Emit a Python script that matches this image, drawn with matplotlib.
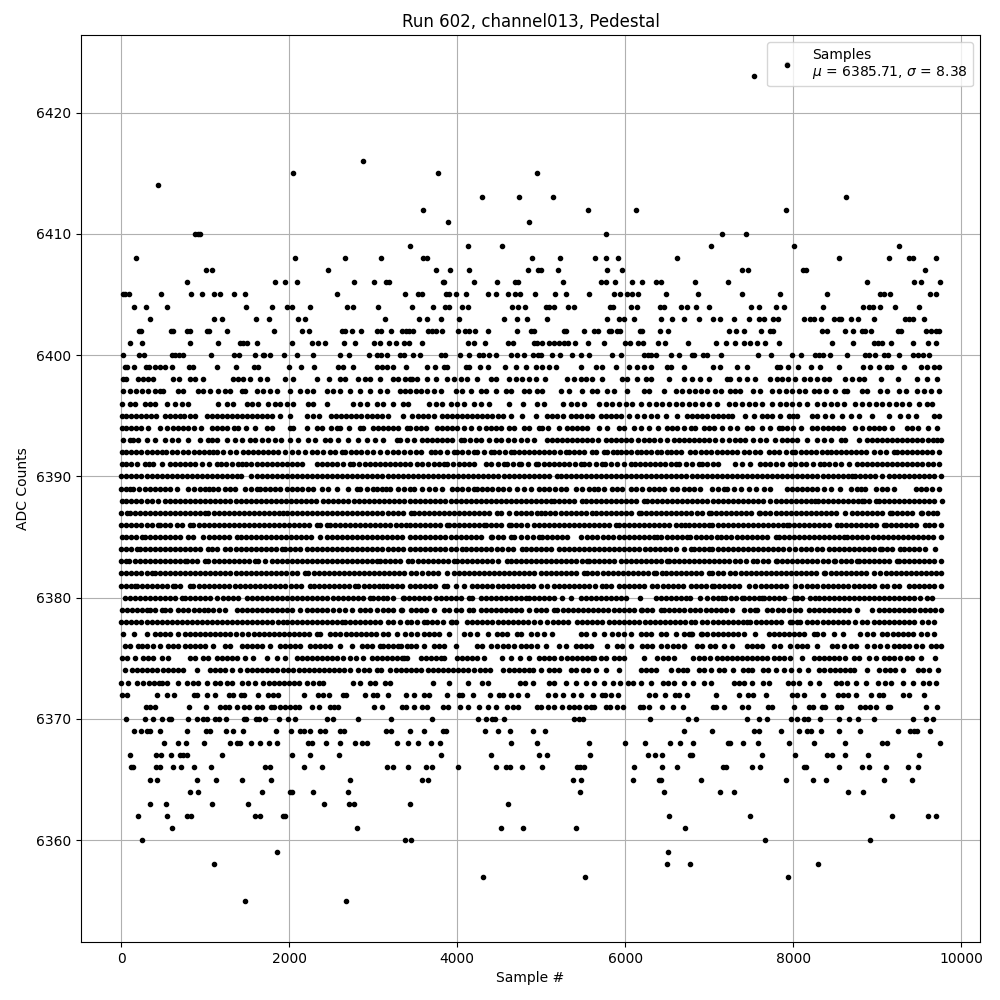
import matplotlib
matplotlib.use('Agg')
import matplotlib.pyplot as plt

# Sample numbers per ADC level.
# Outer levels are close to dot by dot, the dense inner levels are estimates.
s6424 = [7929]
s6423 = [7536]
s6416 = [2882]
s6415 = [2049, 3775, 4950]
s6414 = [441]
s6413 = [4300, 4740, 5142, 8632]
s6412 = [3597, 5559, 6131, 7917]
s6411 = [3895, 4859]
s6410 = [877, 917, 937, 5774, 7155, 7441]
s6409 = [3442, 4133, 4538, 7024, 8013, 9263]
s6408 = [179, 2072, 2668, 3097, 3597, 3637, 4890, 5226, 5643, 5774, 5917, 6619, 8549, 9144, 9382, 9422, 9704]
s6407 = [1012, 1084, 2465, 3752, 3918, 4145, 4847, 4958, 4996, 5202, 5786, 5964, 7393, 7465, 8120, 8152, 9573]
s6406 = [786, 1834, 1953, 2096, 2775, 3013, 3156, 3184, 3835, 3847, 4204, 4478, 4689, 4728, 5262, 5710, 5774, 5881, 6083,
         6202, 6369, 6429, 6834, 7227, 8882, 9442, 9525, 9752]
s6405 = [16, 48, 87, 476, 834, 965, 1108, 1179, 1346, 1477, 2573, 3382, 3537, 3585, 3871, 3906, 3990, 4109, 4371, 4466, 4609,
         4693, 4752, 4925, 5166, 5297, 5571, 5869, 5940, 6024, 6083, 6155, 6488, 6869, 7393, 7846, 8406, 9037, 9085, 9156, 9633, 9704]
s6404 = [155, 298, 548, 1489, 1798, 1977, 2037, 2251, 2692, 2763, 3061, 3466, 3716, 3859, 3906, 4061, 4133, 4657, 4728, 4812,
         5059, 5095, 5154, 5321, 5393, 5821, 5857, 6071, 6143, 6417, 6464, 6667, 6738, 6846, 7000, 7501, 7596, 7798, 7894, 8358,
         8835, 8906, 8954, 9037, 9216, 9501]
s6403 = [345, 1108, 1203, 1608, 1763, 2108, 2191, 3144, 3549, 3644, 3811, 4026, 4562, 4716, 4835, 5071, 5786, 5929, 5988, 6107,
         6429, 6560, 6703, 6881, 7048, 7131, 7298, 7477, 7596, 7655, 7763, 7822, 8132, 8203, 8251, 8334, 8489, 8549, 8573, 8692,
         8775, 8966, 9335, 9382, 9430, 9561]
s6402 = [214, 238, 595, 619, 786, 822, 1024, 1048, 1262, 1822, 2156, 2239, 2632, 2668, 2751, 2858, 3049, 3097, 3216, 3347, 3390,
         3430, 3470, 3656, 3704, 3752, 3823, 4014, 4097, 4145, 4216, 4371, 4716, 4883, 4919, 5273, 5297, 5512, 5631, 5678, 5809,
         5833, 5905, 5940, 6179, 6206, 6417, 6512, 7239, 7322, 7417, 7620, 7727, 7763, 8346, 8406, 8620, 8715, 8823, 8858, 8930,
         9251, 9287, 9585, 9644, 9704, 9740]
s6401 = [107, 250, 822, 1155, 1417, 1453, 1501, 1620, 2037, 2275, 2346, 2430, 2656, 2787, 3013, 3085, 3192, 3275, 3370, 3430,
         3585, 4133, 4204, 4335, 4609, 4669, 4919, 4954, 5015, 5095, 5154, 5214, 5273, 5321, 5404, 5559, 5750, 6000, 6060, 6155,
         6214, 6393, 6476, 6750, 7084, 7203, 7310, 7417, 7489, 7572, 7667, 7834, 8465, 8715, 8966, 9013, 9061, 9168, 9430, 9609, 9704]
s6400 = [24, 214, 274, 607, 643, 683, 738, 1072, 1346, 1405, 1596, 1683, 1703, 1775, 1941, 2096, 2287, 2608, 2716, 2954, 3049,
         3097, 3168, 3323, 3370, 3477, 3557, 3811, 3859, 4038, 4145, 4264, 4312, 4383, 4466, 4645, 4716, 4800, 4907, 4966, 4999,
         5131, 5226, 5365, 5472, 5571, 5845, 5952, 6226, 6266, 6305, 6365, 6548, 6643, 6798, 6822, 6929, 6969, 7143, 7584, 7739,
         7989, 8096, 8263, 8310, 8358, 8441, 8644, 8858, 8906, 8977, 9085, 9128, 9263, 9422, 9481, 9541, 9620]
s6399 = [40, 70, 151, 294, 334, 401, 461, 520, 599, 810, 857, 1143, 1366, 1580, 1631, 2000, 2136, 2299, 2584, 2644, 2755, 3041,
         3101, 3160, 3239, 3390, 3635, 3738, 3841, 3881, 4099, 4139, 4270, 4365, 4568, 4695, 4814, 4933, 5012, 5092, 5175, 5469,
         5647, 5727, 5890, 6040, 6143, 6223, 6302, 6501, 6541, 6700, 7043, 7127, 7333, 7452, 7810, 7849, 7936, 8056, 8214, 8325,
         8544, 8830, 8913, 9020, 9120, 9167, 9318, 9524, 9596, 9675, 9735]
s6398 = [16, 56, 202, 262, 322, 381, 619, 691, 818, 877, 977, 1334, 1394, 1453, 1532, 1651, 1731, 1949, 2049, 2327, 2477, 2604,
         2664, 2823, 2902, 2962, 3081, 3239, 3299, 3378, 3438, 3464, 3524, 3643, 3742, 3873, 3960, 4040, 4119, 4238, 4397, 4457,
         4615, 4695, 4774, 4854, 4933, 5044, 5310, 5390, 5469, 5528, 5608, 5727, 5965, 6017, 6144, 6243, 6303, 6521, 6698, 6797,
         6896, 6996, 7214, 7254, 7353, 7452, 7551, 7730, 7809, 7869, 7936, 8028, 8127, 8206, 8286, 8365, 8425, 8623, 8703, 8782,
         8842, 9052, 9247, 9477, 9596, 9715]
s6397 = [16, 103, 175, 242, 322, 401, 461, 500, 679, 739, 917, 977, 1056, 1155, 1235, 1294, 1433, 1473, 1612, 1691, 1771, 1850,
         2009, 2128, 2207, 2287, 2446, 2525, 2604, 2723, 2842, 2962, 3081, 3160, 3319, 3378, 3438, 3504, 3563, 3643, 3722, 3802,
         3980, 4060, 4159, 4278, 4337, 4457, 4576, 4635, 4794, 4854, 4949, 5012, 5231, 5330, 5489, 5608, 5667, 5787, 5866, 6025,
         6223, 6283, 6461, 6600, 6680, 6757, 6837, 6897, 6976, 7075, 7135, 7254, 7313, 7373, 7524, 7611, 7750, 7829, 7909, 7988,
         8067, 8147, 8246, 8306, 8393, 8496, 8603, 8643, 8822, 8881, 9040, 9120, 9258, 9338, 9477, 9556, 9636, 9735]
s6396 = [4, 103, 163, 282, 341, 401, 540, 639, 719, 798, 1155, 1255, 1334, 1493, 1552, 1632, 1751, 1830, 1890, 1969, 2049, 2227,
         2287, 2446, 2763, 2843, 2922, 3041, 3120, 3240, 3358, 3418, 3663, 3742, 3821, 3921, 4000, 4079, 4198, 4278, 4377, 4615,
         4782, 4953, 5032, 5258, 5350, 5429, 5509, 5687, 5767, 5846, 5925, 6005, 6084, 6183, 6283, 6362, 6442, 6521, 6600, 6680,
         6759, 6837, 6916, 6996, 7095, 7234, 7313, 7393, 7472, 7551, 7631, 7750, 7849, 7909, 7988, 8067, 8167, 8286, 8365, 8445,
         8524, 8603, 8742, 8822, 8901, 8981, 9060, 9139, 9219, 9298, 9377, 9497, 9596, 9656]
s6395 = [5, 60, 115, 170, 230, 290, 350, 410, 520, 580, 640, 700, 750, 820, 880, 1020, 1080, 1140, 1200, 1260, 1320, 1380, 1440,
         1500, 1560, 1620, 1680, 1740, 1800, 1890, 2010, 2210, 2280, 2350, 2500, 2560, 2620, 2680, 2740, 2800, 2860, 2920, 2980,
         3040, 3100, 3180, 3360, 3465, 3530, 3590, 3650, 3720, 3820, 3880, 3940, 4000, 4060, 4120, 4180, 4240, 4300, 4360, 4420,
         4480, 4540, 4635, 4775, 4933, 5070, 5130, 5190, 5258, 5350, 5410, 5470, 5550, 5600, 5707, 5770, 5830, 5890, 5945, 6040,
         6144, 6223, 6303, 6382, 6481, 6612, 6737, 6800, 6860, 6920, 6980, 7040, 7100, 7160, 7220, 7273, 7432, 7531, 7631, 7690,
         7750, 7841, 7948, 8000, 8048, 8226, 8286, 8385, 8465, 8584, 8683, 8782, 8941, 9139, 9278, 9370, 9457, 9675, 9735]
s6394 = [10, 60, 110, 170, 240, 320, 460, 540, 620, 680, 740, 800, 860, 950, 1080, 1140, 1200, 1260, 1340, 1390, 1490, 1590, 1730,
         1790, 2010, 2050, 2210, 2330, 2390, 2500, 2570, 2610, 2710, 2840, 2880, 3000, 3060, 3120, 3180, 3240, 3300, 3400, 3436,
         3504, 3563, 3623, 3760, 3820, 3880, 3940, 4000, 4079, 4159, 4258, 4337, 4400, 4460, 4520, 4615, 4675, 4794, 4854, 4973,
         5012, 5080, 5210, 5310, 5370, 5430, 5490, 5550, 5687, 5787, 5926, 5985, 6105, 6185, 6283, 6390, 6500, 6560, 6620, 6700,
         6780, 6837, 6936, 7000, 7060, 7154, 7254, 7333, 7452, 7512, 7631, 7730, 7829, 7869, 7930, 8000, 8090, 8226, 8290, 8350,
         8410, 8470, 8530, 8590, 8742, 8822, 8901, 8960, 9020, 9080, 9179, 9358, 9417, 9485, 9604, 9715]
s6393 = [24, 100, 144, 202, 302, 400, 520, 600, 680, 798, 938, 1037, 1076, 1140, 1255, 1354, 1433, 1530, 1592, 1671, 1750, 1830,
         1900, 2009, 2108, 2227, 2307, 2426, 2485, 2580, 2703, 2823, 2922, 3021, 3120, 3279, 3319, 3404, 3484, 3583, 3643, 3702,
         3760, 3820, 3880, 3940, 4040, 4079, 4150, 4218, 4278, 4377, 4457, 4520, 4600, 4675, 4754, 4834, 4913, 5072, 5130, 5190,
         5250, 5310, 5370, 5430, 5490, 5550, 5607, 5680, 5766, 5826, 5885, 5945, 6005, 6065, 6150, 6223, 6283, 6340, 6420, 6500,
         6580, 6640, 6700, 6760, 6820, 6880, 6940, 7000, 7075, 7155, 7234, 7313, 7372, 7430, 7520, 7611, 7671, 7778, 7869, 7930,
         7990, 8050, 8167, 8286, 8365, 8445, 8564, 8623, 8782, 8881, 8940, 9000, 9060, 9120, 9180, 9240, 9300, 9360, 9420, 9480,
         9540, 9600, 9660, 9715, 9757]
s6392 = [4, 60, 120, 180, 240, 300, 360, 420, 480, 530, 600, 660, 738, 800, 860, 920, 980, 1040, 1096, 1135, 1215, 1294, 1370, 1453,
         1512, 1570, 1630, 1690, 1750, 1810, 1870, 1950, 2029, 2100, 2187, 2267, 2330, 2400, 2485, 2545, 2624, 2664, 2730, 2790,
         2850, 2920, 3001, 3081, 3160, 3240, 3299, 3370, 3438, 3504, 3563, 3682, 3740, 3800, 3880, 3960, 4000, 4060, 4130, 4200,
         4240, 4320, 4397, 4437, 4500, 4570, 4635, 4675, 4735, 4795, 4855, 4915, 4975, 5035, 5095, 5155, 5220, 5290, 5330, 5390,
         5450, 5510, 5607, 5647, 5747, 5787, 5850, 5906, 5945, 6005, 6065, 6144, 6183, 6243, 6303, 6382, 6421, 6500, 6541, 6600,
         6660, 6770, 6837, 6900, 6960, 7020, 7095, 7154, 7215, 7275, 7335, 7412, 7472, 7540, 7611, 7710, 7770, 7829, 7909, 7988,
         8028, 8090, 8150, 8210, 8270, 8340, 8405, 8445, 8505, 8565, 8625, 8685, 8745, 8805, 8865, 8960, 9040, 9100, 9199, 9239,
         9298, 9358, 9418, 9478, 9538, 9598, 9658, 9735]
s6391 = [4, 60, 120, 190, 282, 333, 381, 480, 580, 640, 700, 760, 820, 880, 960, 1048, 1135, 1190, 1250, 1320, 1394, 1433, 1490,
         1550, 1610, 1670, 1730, 1790, 1850, 1910, 1970, 2030, 2090, 2148, 2326, 2385, 2445, 2505, 2565, 2640, 2723, 2763, 2830,
         2902, 2962, 3020, 3080, 3140, 3200, 3260, 3320, 3380, 3438, 3524, 3583, 3650, 3720, 3780, 3841, 3881, 3950, 4020, 4080,
         4139, 4198, 4337, 4400, 4480, 4556, 4595, 4660, 4734, 4762, 4840, 4933, 4961, 5030, 5090, 5150, 5210, 5270, 5330, 5400,
         5470, 5509, 5568, 5650, 5727, 5755, 5830, 5900, 5990, 6064, 6120, 6180, 6240, 6300, 6360, 6420, 6480, 6540, 6600, 6640,
         6720, 6800, 6877, 6916, 6980, 7040, 7100, 7313, 7393, 7492, 7611, 7670, 7730, 7790, 7870, 7968, 8028, 8090, 8150, 8240,
         8325, 8365, 8430, 8496, 8564, 8660, 8762, 8822, 8880, 8940, 9000, 9060, 9120, 9180, 9240, 9300, 9360, 9420, 9480, 9540,
         9600, 9660, 9735]
s6390 = [0, 60, 120, 180, 240, 300, 360, 420, 480, 540, 600, 660, 720, 780, 840, 900, 960, 1020, 1080, 1140, 1200, 1260, 1320,
         1380, 1430, 1550, 1610, 1670, 1730, 1790, 1850, 1910, 1970, 2030, 2090, 2150, 2210, 2270, 2330, 2390, 2450, 2510, 2570,
         2630, 2690, 2750, 2810, 2870, 2930, 2990, 3050, 3110, 3170, 3230, 3290, 3350, 3410, 3470, 3530, 3590, 3650, 3710, 3770,
         3830, 3890, 3950, 4010, 4070, 4130, 4190, 4250, 4310, 4370, 4430, 4490, 4555, 4615, 4675, 4735, 4795, 4855, 4915, 4975,
         5035, 5095, 5190, 5231, 5290, 5350, 5410, 5470, 5530, 5590, 5650, 5710, 5770, 5830, 5890, 5950, 6010, 6070, 6130, 6190,
         6250, 6310, 6370, 6430, 6490, 6550, 6610, 6670, 6730, 6790, 6850, 6910, 6970, 7030, 7090, 7150, 7210, 7270, 7330, 7390,
         7450, 7510, 7570, 7630, 7690, 7750, 7810, 7870, 7930, 7990, 8050, 8110, 8170, 8230, 8290, 8350, 8410, 8470, 8530, 8590,
         8650, 8703, 8742, 8800, 8860, 8920, 8980, 9060, 9139, 9200, 9260, 9320, 9380, 9440, 9500, 9560, 9620, 9680, 9755]
s6389 = [0, 60, 103, 143, 210, 280, 340, 401, 461, 520, 580, 659, 798, 860, 937, 996, 1050, 1096, 1155, 1235, 1300, 1354, 1473,
         1540, 1612, 1651, 1710, 1770, 1830, 1890, 1969, 2030, 2090, 2148, 2227, 2287, 2386, 2465, 2564, 2703, 2803, 2842, 2922,
         3001, 3041, 3100, 3150, 3200, 3299, 3370, 3438, 3484, 3583, 3662, 3740, 3821, 3940, 4000, 4060, 4130, 4198, 4238, 4300,
         4360, 4420, 4480, 4540, 4620, 4715, 4794, 4874, 4973, 5032, 5092, 5160, 5230, 5300, 5409, 5488, 5568, 5630, 5680, 5747,
         5846, 5905, 5965, 6064, 6124, 6200, 6283, 6342, 6400, 6461, 6560, 6620, 6700, 6760, 6817, 6896, 7035, 7100, 7174, 7214,
         7290, 7380, 7472, 7563, 7651, 7730, 7929, 7990, 8050, 8110, 8170, 8230, 8290, 8370, 8445, 8556, 8683, 8762, 8810, 8861,
         8981, 9060, 9120, 9199, 9457, 9520, 9580, 9650, 9735]
s6388 = [4, 60, 120, 180, 240, 300, 360, 441, 520, 580, 640, 700, 760, 820, 880, 940, 1000, 1060, 1120, 1180, 1240, 1300, 1360,
         1420, 1480, 1540, 1600, 1660, 1720, 1780, 1840, 1900, 1960, 2020, 2080, 2140, 2200, 2260, 2320, 2406, 2465, 2525, 2585,
         2645, 2705, 2765, 2825, 2885, 2945, 3005, 3065, 3125, 3185, 3245, 3305, 3365, 3438, 3500, 3560, 3620, 3680, 3740, 3800,
         3860, 3920, 3980, 4040, 4100, 4160, 4220, 4280, 4340, 4400, 4460, 4520, 4580, 4640, 4700, 4760, 4820, 4880, 4940, 5000,
         5060, 5111, 5151, 5210, 5270, 5330, 5390, 5489, 5528, 5590, 5650, 5710, 5770, 5830, 5890, 5950, 6010, 6070, 6130, 6223,
         6263, 6320, 6380, 6440, 6500, 6560, 6620, 6680, 6740, 6800, 6860, 6920, 6980, 7040, 7100, 7160, 7220, 7280, 7340, 7400,
         7460, 7520, 7580, 7640, 7730, 7790, 7850, 7910, 7970, 8030, 8090, 8150, 8210, 8266, 8294, 8350, 8410, 8470, 8530, 8590,
         8650, 8710, 8770, 8822, 8842, 8900, 8981, 9020, 9080, 9140, 9200, 9260, 9320, 9380, 9440, 9500, 9560, 9620, 9680, 9770]
s6387 = [0, 64, 103, 160, 220, 280, 340, 400, 460, 520, 580, 640, 700, 760, 820, 880, 940, 996, 1036, 1100, 1160, 1220, 1280, 1340,
         1400, 1460, 1520, 1580, 1640, 1700, 1760, 1820, 1880, 1929, 1969, 2030, 2090, 2150, 2210, 2270, 2330, 2390, 2450, 2510,
         2570, 2630, 2690, 2750, 2810, 2870, 2930, 2990, 3050, 3110, 3170, 3230, 3290, 3350, 3444, 3484, 3540, 3600, 3660, 3720,
         3780, 3840, 3900, 3960, 4020, 4080, 4140, 4200, 4260, 4320, 4380, 4476, 4516, 4615, 4695, 4760, 4820, 4880, 4953, 4993,
         5050, 5110, 5170, 5230, 5290, 5350, 5410, 5470, 5530, 5608, 5648, 5710, 5770, 5830, 5890, 5950, 6010, 6070, 6164, 6190,
         6250, 6310, 6370, 6430, 6490, 6550, 6600, 6660, 6720, 6779, 6850, 6910, 6996, 7016, 7080, 7140, 7200, 7260, 7320, 7380,
         7440, 7500, 7590, 7611, 7670, 7730, 7790, 7850, 7910, 7970, 8030, 8090, 8150, 8210, 8270, 8330, 8390, 8450, 8510, 8623,
         8703, 8760, 8820, 8880, 8940, 9000, 9060, 9159, 9179, 9240, 9300, 9360, 9420, 9517, 9536, 9600, 9660, 9715]
s6386 = [0, 60, 120, 180, 240, 300, 360, 441, 461, 520, 580, 659, 719, 818, 858, 920, 980, 1040, 1100, 1160, 1220, 1280, 1340, 1400,
         1460, 1520, 1580, 1640, 1700, 1760, 1820, 1880, 1940, 2000, 2060, 2120, 2180, 2240, 2326, 2366, 2446, 2485, 2545, 2605,
         2665, 2725, 2785, 2845, 2905, 2965, 3025, 3085, 3145, 3205, 3265, 3325, 3385, 3438, 3500, 3560, 3620, 3680, 3740, 3800,
         3881, 3900, 3960, 4020, 4080, 4140, 4200, 4260, 4318, 4337, 4400, 4460, 4520, 4615, 4635, 4700, 4760, 4834, 4913, 4975,
         5035, 5095, 5155, 5215, 5275, 5335, 5395, 5455, 5509, 5568, 5630, 5690, 5750, 5810, 5886, 5925, 5985, 6045, 6105, 6165,
         6225, 6285, 6345, 6405, 6465, 6521, 6600, 6660, 6718, 6758, 6820, 6880, 6940, 6996, 7036, 7100, 7160, 7220, 7280, 7340,
         7400, 7460, 7520, 7580, 7640, 7700, 7760, 7820, 7880, 7929, 7948, 8010, 8070, 8130, 8190, 8250, 8310, 8370, 8430, 8524,
         8564, 8625, 8685, 8745, 8805, 8865, 8925, 8985, 9080, 9100, 9160, 9220, 9280, 9340, 9400, 9460, 9576, 9616, 9680, 9755]
s6385 = [4, 60, 120, 180, 242, 282, 340, 400, 460, 520, 580, 640, 700, 798, 858, 977, 1040, 1100, 1160, 1220, 1280, 1374, 1421,
         1480, 1540, 1600, 1660, 1720, 1780, 1840, 1900, 1960, 2020, 2080, 2140, 2200, 2260, 2366, 2446, 2505, 2565, 2625, 2685,
         2745, 2805, 2865, 2925, 2985, 3045, 3105, 3165, 3225, 3285, 3345, 3438, 3500, 3560, 3620, 3680, 3740, 3800, 3860, 3920,
         3980, 4040, 4100, 4160, 4220, 4280, 4397, 4417, 4480, 4540, 4635, 4675, 4754, 4834, 4900, 4973, 5012, 5072, 5131, 5190,
         5250, 5310, 5469, 5548, 5610, 5670, 5730, 5790, 5850, 5925, 5985, 6045, 6105, 6165, 6225, 6285, 6345, 6382, 6421, 6500,
         6561, 6620, 6680, 6738, 6777, 6840, 6900, 6960, 7020, 7095, 7135, 7200, 7260, 7333, 7393, 7450, 7510, 7570, 7631, 7691,
         7790, 7829, 7890, 7950, 8010, 8070, 8130, 8190, 8250, 8310, 8370, 8430, 8490, 8550, 8603, 8643, 8705, 8765, 8825, 8885,
         8945, 9005, 9065, 9125, 9185, 9245, 9305, 9365, 9425, 9485, 9545, 9605, 9665, 9755]
s6384 = [0, 60, 120, 183, 222, 282, 340, 400, 460, 520, 580, 640, 700, 760, 820, 880, 940, 1036, 1076, 1140, 1235, 1294, 1360, 1420,
         1480, 1540, 1600, 1660, 1720, 1780, 1840, 1910, 1949, 2010, 2070, 2130, 2207, 2267, 2330, 2390, 2450, 2510, 2570, 2630,
         2690, 2750, 2810, 2870, 2930, 2990, 3050, 3110, 3170, 3230, 3290, 3350, 3438, 3500, 3560, 3620, 3680, 3740, 3800, 3860,
         3920, 3980, 4060, 4099, 4160, 4220, 4280, 4340, 4400, 4477, 4536, 4600, 4660, 4774, 4814, 4875, 4935, 4995, 5055, 5115,
         5211, 5270, 5330, 5390, 5450, 5510, 5570, 5630, 5690, 5750, 5810, 5870, 5930, 5990, 6050, 6110, 6170, 6230, 6290, 6350,
         6410, 6470, 6530, 6600, 6700, 6779, 6817, 6880, 6940, 6996, 7036, 7100, 7160, 7220, 7280, 7340, 7400, 7460, 7520, 7580,
         7640, 7700, 7760, 7820, 7880, 7948, 8028, 8090, 8150, 8210, 8286, 8345, 8425, 8485, 8545, 8605, 8665, 8725, 8785, 8845,
         8905, 8965, 9040, 9060, 9120, 9180, 9278, 9318, 9380, 9440, 9500, 9576, 9695]
s6383 = [0, 60, 95, 163, 220, 280, 340, 400, 460, 520, 580, 640, 700, 758, 778, 840, 900, 996, 1036, 1100, 1160, 1220, 1280, 1340,
         1400, 1460, 1520, 1592, 1632, 1711, 1790, 1850, 1910, 1970, 2030, 2090, 2150, 2210, 2270, 2330, 2390, 2450, 2510, 2570,
         2630, 2690, 2750, 2810, 2870, 2930, 2990, 3041, 3081, 3140, 3200, 3260, 3320, 3418, 3464, 3530, 3590, 3650, 3710, 3770,
         3830, 3890, 3960, 4000, 4060, 4120, 4180, 4240, 4300, 4360, 4420, 4480, 4595, 4635, 4700, 4760, 4820, 4880, 4940, 5000,
         5060, 5120, 5180, 5240, 5300, 5360, 5420, 5480, 5548, 5568, 5630, 5690, 5750, 5810, 5870, 5945, 6005, 6064, 6130, 6190,
         6250, 6310, 6370, 6430, 6501, 6521, 6580, 6640, 6700, 6759, 6820, 6880, 6940, 7000, 7060, 7120, 7180, 7240, 7313, 7373,
         7440, 7524, 7571, 7640, 7700, 7790, 7809, 7870, 7930, 7990, 8050, 8110, 8170, 8230, 8290, 8350, 8410, 8484, 8504, 8570,
         8630, 8690, 8762, 8782, 8845, 8905, 8965, 9025, 9085, 9145, 9239, 9258, 9320, 9380, 9440, 9500, 9560, 9620, 9680, 9755]
s6382 = [0, 60, 120, 180, 240, 300, 361, 401, 460, 520, 580, 640, 700, 760, 820, 880, 940, 1000, 1060, 1120, 1180, 1240, 1300, 1360,
         1420, 1480, 1540, 1600, 1660, 1720, 1780, 1840, 1900, 1960, 2029, 2088, 2187, 2227, 2290, 2350, 2410, 2470, 2530, 2590,
         2650, 2710, 2770, 2830, 2890, 2950, 3010, 3070, 3130, 3190, 3250, 3310, 3370, 3444, 3504, 3583, 3650, 3710, 3770, 3881,
         3960, 4020, 4080, 4140, 4200, 4260, 4320, 4380, 4440, 4500, 4560, 4620, 4680, 4740, 4800, 4860, 4920, 4992, 5052, 5115,
         5175, 5235, 5295, 5355, 5415, 5509, 5548, 5610, 5670, 5730, 5790, 5850, 5910, 5970, 6030, 6090, 6150, 6210, 6270, 6343,
         6362, 6442, 6481, 6545, 6605, 6665, 6725, 6785, 6845, 6905, 6996, 7036, 7100, 7160, 7254, 7313, 7375, 7435, 7495, 7555,
         7615, 7675, 7735, 7795, 7855, 7915, 7975, 8035, 8095, 8155, 8215, 8275, 8365, 8385, 8445, 8505, 8565, 8625, 8685, 8745,
         8805, 8865, 8961, 9040, 9100, 9160, 9220, 9280, 9340, 9400, 9460, 9520, 9580, 9640, 9700, 9755]
s6381 = [0, 60, 120, 163, 183, 245, 305, 365, 425, 485, 545, 619, 639, 700, 818, 858, 920, 980, 1040, 1100, 1160, 1220, 1280, 1354,
         1413, 1475, 1535, 1595, 1655, 1715, 1775, 1835, 1895, 1955, 2015, 2075, 2135, 2247, 2295, 2355, 2415, 2475, 2535, 2595,
         2655, 2715, 2783, 2823, 2885, 2945, 3005, 3065, 3120, 3160, 3220, 3280, 3340, 3438, 3500, 3560, 3620, 3680, 3740, 3841,
         3881, 3980, 4079, 4179, 4240, 4300, 4360, 4420, 4480, 4540, 4600, 4660, 4720, 4780, 4840, 4900, 4992, 5072, 5151, 5215,
         5275, 5335, 5395, 5455, 5515, 5575, 5635, 5727, 5767, 5830, 5925, 5985, 6045, 6105, 6165, 6225, 6323, 6382, 6445, 6505,
         6565, 6625, 6685, 6779, 6840, 6900, 6960, 7035, 7055, 7115, 7175, 7235, 7295, 7355, 7472, 7551, 7615, 7675, 7735, 7795,
         7855, 7915, 8028, 8088, 8167, 8230, 8290, 8350, 8410, 8470, 8530, 8590, 8650, 8723, 8782, 8842, 8905, 8965, 9060, 9120,
         9199, 9262, 9378, 9437, 9500, 9560, 9620, 9680, 9755]
s6380 = [44, 105, 165, 225, 285, 345, 405, 461, 520, 580, 640, 719, 758, 820, 880, 940, 1000, 1060, 1135, 1215, 1275, 1334, 1394,
         1493, 1555, 1615, 1675, 1735, 1795, 1855, 1915, 1975, 2035, 2095, 2155, 2215, 2275, 2335, 2395, 2455, 2515, 2575, 2635,
         2695, 2755, 2815, 2875, 2962, 3001, 3060, 3120, 3160, 3239, 3359, 3365, 3424, 3485, 3545, 3605, 3662, 3742, 3805, 3865,
         3925, 3985, 4045, 4139, 4179, 4278, 4340, 4400, 4460, 4520, 4580, 4640, 4700, 4760, 4814, 4854, 4915, 4975, 5035, 5095,
         5155, 5251, 5350, 5469, 5530, 5590, 5650, 5710, 5770, 5830, 5890, 5945, 6005, 6175, 6362, 6425, 6485, 6545, 6605, 6665,
         6720, 6777, 6896, 6976, 7040, 7100, 7155, 7194, 7255, 7315, 7393, 7413, 7475, 7535, 7591, 7631, 7651, 7715, 7775, 7835,
         7895, 8008, 8048, 8110, 8206, 8266, 8306, 8365, 8430, 8490, 8550, 8610, 8670, 8730, 8790, 8842, 8901, 8965, 9025, 9085,
         9145, 9205, 9265, 9325, 9385, 9445, 9505, 9596, 9656]
s6379 = [4, 65, 125, 185, 245, 302, 341, 400, 481, 520, 580, 679, 738, 800, 860, 920, 980, 1036, 1096, 1160, 1235, 1374, 1435, 1495,
         1555, 1615, 1675, 1735, 1795, 1855, 1915, 1975, 2035, 2128, 2207, 2270, 2330, 2390, 2446, 2525, 2590, 2664, 2743, 2843,
         2900, 2962, 3041, 3120, 3180, 3240, 3339, 3325, 3444, 3505, 3565, 3625, 3722, 3841, 3905, 3980, 4040, 4139, 4191, 4278,
         4337, 4400, 4460, 4520, 4580, 4640, 4700, 4760, 4854, 4933, 4995, 5055, 5151, 5191, 5255, 5315, 5375, 5435, 5495, 5555,
         5615, 5675, 5735, 5795, 5866, 5925, 5985, 6045, 6105, 6183, 6203, 6265, 6325, 6422, 6461, 6525, 6585, 6645, 6705, 6777,
         6837, 6896, 6960, 7020, 7080, 7140, 7200, 7274, 7413, 7490, 7551, 7571, 7691, 7750, 7815, 7875, 7948, 8028, 8087, 8187,
         8250, 8310, 8370, 8430, 8490, 8550, 8610, 8670, 8762, 8941, 9020, 9085, 9145, 9205, 9265, 9325, 9385, 9445, 9505, 9565,
         9625, 9685, 9755]
s6378 = [0, 60, 120, 180, 240, 300, 360, 420, 480, 540, 600, 659, 720, 780, 840, 900, 960, 1020, 1080, 1140, 1200, 1260, 1320, 1380,
         1440, 1500, 1560, 1620, 1680, 1740, 1800, 1860, 1929, 1969, 2030, 2090, 2150, 2210, 2270, 2330, 2390, 2450, 2510, 2570,
         2624, 2664, 2725, 2785, 2845, 2905, 2965, 3025, 3085, 3180, 3240, 3319, 3404, 3444, 3520, 3603, 3643, 3705, 3765, 3825,
         3921, 3940, 3980, 4119, 4179, 4240, 4300, 4360, 4420, 4480, 4540, 4600, 4660, 4720, 4780, 4840, 4913, 4985, 5072, 5135,
         5195, 5255, 5315, 5429, 5488, 5550, 5610, 5670, 5727, 5806, 5870, 5930, 5990, 6050, 6110, 6170, 6230, 6290, 6350, 6410,
         6470, 6530, 6590, 6650, 6710, 6779, 6837, 6916, 6980, 7040, 7100, 7160, 7220, 7280, 7340, 7400, 7452, 7492, 7555, 7615,
         7675, 7735, 7795, 7855, 7968, 7988, 8050, 8087, 8167, 8226, 8290, 8350, 8410, 8470, 8530, 8590, 8650, 8742, 8822, 8885,
         8961, 9020, 9085, 9145, 9205, 9265, 9325, 9385, 9445, 9536, 9610, 9675]
s6377 = [24, 151, 302, 401, 465, 525, 585, 679, 758, 820, 880, 940, 1000, 1060, 1120, 1180, 1240, 1300, 1360, 1433, 1513, 1575, 1635,
         1695, 1755, 1815, 1875, 1935, 1995, 2055, 2115, 2175, 2235, 2327, 2366, 2485, 2550, 2610, 2670, 2730, 2790, 2850, 2910,
         2970, 3030, 3120, 3180, 3279, 3378, 3444, 3524, 3603, 3665, 3725, 3785, 3901, 4079, 4151, 4238, 4365, 4477, 4535, 4595,
         4706, 4754, 4874, 4953, 5032, 5131, 5469, 5530, 5628, 5747, 5846, 5920, 5985, 6064, 6183, 6250, 6310, 6422, 6481, 6600,
         6700, 6779, 6758, 6797, 6897, 6916, 6980, 7040, 7100, 7160, 7220, 7280, 7340, 7413, 7547, 7711, 7775, 7835, 7895, 7955,
         8015, 8075, 8135, 8246, 8286, 8357, 8484, 8596, 8802, 8881, 8945, 9060, 9120, 9185, 9245, 9305, 9365, 9425, 9517, 9588, 9675]
s6376 = [44, 105, 202, 242, 310, 381, 461, 560, 620, 680, 758, 818, 880, 940, 1000, 1096, 1235, 1300, 1433, 1493, 1555, 1615, 1675,
         1771, 1890, 1950, 2010, 2070, 2130, 2247, 2307, 2370, 2430, 2490, 2604, 2743, 2862, 2925, 2985, 3081, 3120, 3180, 3240,
         3300, 3398, 3325, 3444, 3505, 3603, 3722, 3785, 3845, 3980, 4238, 4298, 4397, 4477, 4540, 4600, 4675, 4754, 4815, 4880,
         4953, 5060, 5211, 5290, 5409, 5470, 5530, 5588, 5787, 5905, 5965, 6064, 6203, 6265, 6325, 6422, 6501, 6565, 6625, 6700,
         6698, 6857, 6916, 7015, 7075, 7174, 7274, 7452, 7515, 7575, 7635, 7770, 7849, 7960, 8048, 8110, 8170, 8286, 8464, 8525,
         8603, 8683, 8745, 8881, 8961, 9040, 9120, 9199, 9260, 9320, 9380, 9457, 9536, 9636, 9700, 9755]
s6375 = [4, 64, 163, 262, 320, 381, 481, 560, 818, 880, 977, 1036, 1135, 1200, 1260, 1320, 1380, 1473, 1564, 1731, 1850, 1949, 2088,
         2150, 2210, 2270, 2330, 2390, 2450, 2510, 2570, 2644, 2723, 2800, 2882, 2981, 3040, 3100, 3160, 3220, 3279, 3339, 3365,
         3404, 3563, 3625, 3685, 3742, 3801, 3841, 4000, 4060, 4120, 4180, 4240, 4318, 4536, 4635, 4746, 4854, 4973, 5035, 5095,
         5155, 5231, 5310, 5370, 5430, 5490, 5550, 5608, 5628, 5707, 5767, 5866, 5925, 5985, 6223, 6382, 6445, 6505, 6580, 6810,
         6877, 6940, 7015, 7095, 7155, 7215, 7275, 7335, 7395, 7452, 7512, 7575, 7635, 7691, 7770, 7835, 7895, 7968, 8107, 8246,
         8310, 8370, 8430, 8490, 8544, 8623, 8723, 8782, 8901, 8981, 9080, 9145, 9205, 9278, 9358, 9420, 9517, 9695]
s6374 = [44, 123, 183, 245, 305, 365, 425, 500, 560, 620, 680, 738, 897, 1056, 1120, 1180, 1240, 1314, 1413, 1493, 1552, 1615, 1675,
         1735, 1795, 1850, 1929, 1990, 2050, 2110, 2170, 2230, 2290, 2350, 2410, 2470, 2530, 2590, 2650, 2723, 2823, 2885, 2945,
         3041, 3088, 3200, 3265, 3325, 3385, 3445, 3505, 3565, 3657, 3712, 3775, 3835, 3895, 3955, 4015, 4073, 4133, 4200, 4272,
         4331, 4391, 4550, 4615, 4675, 4735, 4795, 4855, 4907, 4996, 5095, 5155, 5214, 5353, 5412, 5492, 5555, 5651, 5770, 5929,
         6187, 6250, 6310, 6365, 6544, 6623, 6685, 6742, 6881, 6941, 7020, 7120, 7180, 7278, 7397, 7457, 7516, 7636, 7700, 7794,
         7894, 7973, 8072, 8171, 8310, 8373, 8433, 8493, 8553, 8613, 8673, 8727, 8878, 9025, 9090, 9150, 9210, 9303, 9482, 9550,
         9620, 9728]
s6373 = [0, 83, 183, 262, 325, 385, 445, 481, 540, 679, 778, 850, 917, 1016, 1115, 1175, 1255, 1320, 1433, 1513, 1592, 1691, 1755,
         1815, 1875, 1935, 1995, 2055, 2115, 2207, 2287, 2350, 2406, 2763, 2843, 2962, 3021, 3140, 3200, 3716, 3899, 4133, 4292,
         4371, 4748, 4810, 4907, 5095, 5154, 5293, 5412, 5532, 5631, 5742, 5849, 5940, 6028, 6090, 6187, 6306, 6445, 6510, 6584,
         6703, 6802, 6941, 7020, 7298, 7360, 7417, 7516, 7636, 7715, 7933, 8000, 8068, 8195, 8310, 8509, 8569, 8640, 8747, 8870,
         9013, 9093, 9164, 9303, 9430, 9541, 9620, 9700]
s6372 = [12, 64, 429, 548, 631, 869, 905, 1024, 1120, 1286, 1334, 1429, 1465, 1632, 1751, 1810, 1870, 2180, 2346, 2406, 2477, 2644,
         2680, 2906, 3001, 3049, 3180, 3394, 3489, 3609, 3668, 3883, 4026, 4061, 4184, 4395, 4502, 4550, 4645, 4728, 4828, 5083,
         5166, 5262, 5381, 5472, 5611, 5726, 5762, 5833, 5917, 6286, 6357, 6476, 6596, 6643, 6738, 7084, 7358, 7465, 7525, 7679,
         7989, 8048, 8132, 8358, 8537, 8597, 8656, 8751, 8930, 9025, 9073, 9311, 9382, 9561]
s6371 = [298, 341, 401, 810, 1012, 1179, 1239, 1286, 1382, 1465, 1524, 1620, 1671, 1787, 1822, 1894, 1953, 2013, 2072, 2120, 2275,
         2358, 2489, 2537, 2584, 3013, 3108, 3347, 3394, 3489, 3585, 3644, 3835, 3895, 4038, 4133, 4264, 4371, 4466, 4597, 4669,
         4728, 4954, 5003, 5083, 5154, 5250, 5333, 5393, 5452, 5532, 5591, 5631, 5774, 5821, 5905, 5976, 6179, 6214, 6286, 6441,
         6572, 6691, 7048, 7084, 7179, 7393, 7465, 7703, 7751, 8012, 8191, 8239, 8346, 8382, 8525, 8569, 8799, 8858, 8918, 8990,
         9132, 9156, 9585, 9716]
s6370 = [60, 286, 381, 488, 572, 595, 798, 897, 977, 1024, 1120, 1167, 1251, 1465, 1489, 1608, 1644, 1715, 1882, 1989, 2072, 2453,
         2525, 2823, 3216, 3704, 4252, 4347, 4419, 4454, 4562, 5393, 5452, 5500, 6298, 6750, 6846, 7453, 7596, 7691, 7977, 8048,
         8132, 8180, 8322, 8549, 8668, 8775, 8966, 9430, 9585, 9668]
s6369 = [155, 238, 310, 345, 465, 786, 1012, 1060, 1251, 1334, 1453, 1846, 2025, 2132, 2180, 2251, 2370, 2430, 2608, 2656, 3156,
         3216, 3442, 3609, 3835, 3871, 4335, 4490, 4633, 4907, 5047, 6703, 7036, 7536, 7596, 7858, 8072, 8168, 8215, 8334, 8549,
         8799, 9251, 9394, 9442, 9478, 9633]
s6368 = [512, 679, 774, 988, 1298, 1382, 1417, 1548, 1655, 1763, 1850, 2227, 2275, 2442, 2608, 2787, 2870, 2930, 3287, 3418, 3537,
         3692, 3799, 4645, 4945, 5571, 6000, 6238, 6536, 6655, 6810, 7227, 7250, 7405, 7584, 7953, 8251, 8620, 9061, 9120, 9752]
s6367 = [107, 417, 476, 595, 703, 738, 786, 1203, 2037, 2251, 2596, 3811, 4407, 4978, 5071, 5583, 6274, 6357, 6441, 6774, 6798,
         7632, 8024, 8406, 8465, 8620, 8894, 9501]
s6366 = [119, 143, 417, 465, 619, 715, 869, 1072, 1715, 1775, 2180, 2394, 3168, 3239, 3418, 3633, 3700, 4014, 4466, 4585, 4633,
         4776, 5011, 5428, 5464, 5512, 6107, 6441, 6619, 7167, 7203, 7513, 7608, 8132, 8156, 8549, 8823, 8906, 9108, 9370, 9490]
s6365 = [345, 429, 905, 1131, 1441, 1787, 2727, 3585, 3656, 5381, 5476, 6095, 6405, 6425, 6905, 7917, 8239, 8394, 9085, 9418]
s6364 = [822, 917, 1679, 2013, 2037, 2287, 2704, 5464, 6464, 7131, 7298, 8656, 8835]
s6363 = [345, 536, 1084, 1513, 2418, 2716, 2775, 3442, 4609]
s6362 = [202, 548, 786, 834, 1596, 1655, 1929, 1953, 6524, 7489, 9180, 9609, 9704]
s6361 = [607, 2811, 4526, 4788, 5416, 6715]
s6360 = [250, 3382, 3454, 7667, 8918]
s6359 = [1858, 6512]
s6358 = [1108, 6500, 6774, 8298]
s6357 = [4311, 5524, 7941]
s6355 = [1477, 2680]

levels = {
    6424: s6424, 6423: s6423, 6416: s6416, 6415: s6415, 6414: s6414, 6413: s6413, 6412: s6412, 6411: s6411,
    6410: s6410, 6409: s6409, 6408: s6408, 6407: s6407, 6406: s6406, 6405: s6405, 6404: s6404, 6403: s6403,
    6402: s6402, 6401: s6401, 6400: s6400, 6399: s6399, 6398: s6398, 6397: s6397, 6396: s6396, 6395: s6395,
    6394: s6394, 6393: s6393, 6392: s6392, 6391: s6391, 6390: s6390, 6389: s6389, 6388: s6388, 6387: s6387,
    6386: s6386, 6385: s6385, 6384: s6384, 6383: s6383, 6382: s6382, 6381: s6381, 6380: s6380, 6379: s6379,
    6378: s6378, 6377: s6377, 6376: s6376, 6375: s6375, 6374: s6374, 6373: s6373, 6372: s6372, 6371: s6371,
    6370: s6370, 6369: s6369, 6368: s6368, 6367: s6367, 6366: s6366, 6365: s6365, 6364: s6364, 6363: s6363,
    6362: s6362, 6361: s6361, 6360: s6360, 6359: s6359, 6358: s6358, 6357: s6357, 6355: s6355,
}

mean_adc = 6385.71
sigma_adc = 8.38

xs = []
ys = []
for level, samples in levels.items():
    xs += samples
    ys += [level] * len(samples)

fig, ax = plt.subplots(figsize=(10, 10), dpi=100)
ax.plot(xs, ys, 'k.', label=f'Samples\n$\\mu$ = {mean_adc:.2f}, $\\sigma$ = {sigma_adc:.2f}')
ax.set_xlim(-480, 10225)
ax.set_ylim(6351.6, 6426.4)
ax.set_xlabel('Sample #')
ax.set_ylabel('ADC Counts')
ax.set_title('Run 602, channel013, Pedestal')
ax.legend(loc='upper right')
ax.grid(True)
fig.subplots_adjust(left=0.081, right=0.98, top=0.965, bottom=0.058)
fig.savefig('out.png')
